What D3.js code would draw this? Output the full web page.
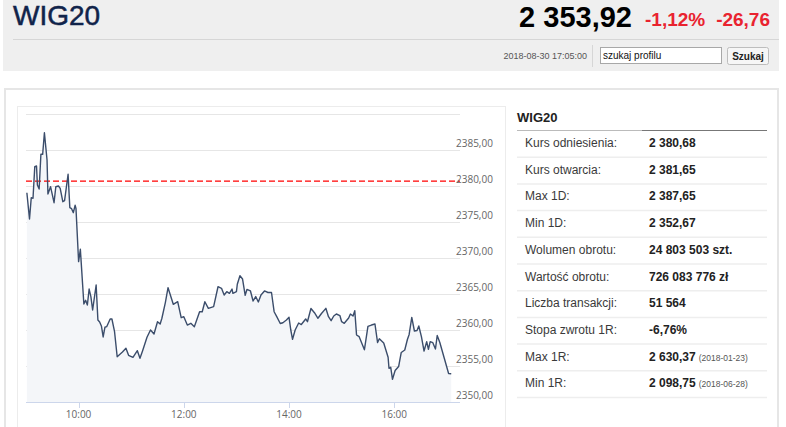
<!DOCTYPE html>
<html>
<head>
<meta charset="utf-8">
<script src="https://cdn.jsdelivr.net/npm/d3@7"></script>
<style>
  body { margin: 0; background: #fff; }
  svg text { font-family: "Liberation Sans", Arial, sans-serif; }
  .ylab, .xlab { font-family: "Open Sans", sans-serif; font-size: 10px; fill: #666; }
</style>
</head>
<body>
<svg width="786" height="427"></svg>
<script>
// header
const title = 'WIG20';
const lastPrice = '2 353,92';
const changePct = '-1,12%';
const changeAbs = '-26,76';
const stamp = '2018-08-30 17:05:00';

// intraday series (time, index value)
const times = ['09:01','09:04','09:06','09:08','09:10','09:12','09:13','09:15','09:17','09:19',
  '09:21','09:24','09:25','09:28','09:32','09:34','09:37','09:39','09:42','09:44',
  '09:48','09:50','09:52','09:54','09:56','09:57','10:00','10:02','10:06','10:08',
  '10:10','10:12','10:14','10:16','10:20','10:22','10:24','10:26','10:28','10:30',
  '10:32','10:36','10:38','10:41','10:44','10:50','10:54','10:57','11:02','11:07',
  '11:10','11:13','11:18','11:22','11:26','11:30','11:33','11:35','11:39','11:42',
  '11:48','11:53','11:57','12:00','12:04','12:08','12:12','12:18','12:21','12:24',
  '12:28','12:34','12:39','12:43','12:46','12:49','12:52','12:55','12:56','13:00',
  '13:01','13:04','13:07','13:10','13:12','13:16','13:19','13:22','13:25','13:28',
  '13:32','13:36','13:40','13:43','13:46','13:50','13:53','13:57','14:00','14:02',
  '14:04','14:07','14:11','14:14','14:19','14:21','14:25','14:29','14:33','14:37',
  '14:42','14:45','14:48','14:51','14:54','14:58','15:00','15:03','15:08','15:10',
  '15:13','15:15','15:17','15:20','15:26','15:30','15:34','15:38','15:41','15:43',
  '15:48','15:53','15:54','15:56','15:58','16:01','16:05','16:08','16:12','16:15',
  '16:17','16:20','16:23','16:26','16:28','16:31','16:34','16:37','16:39','16:41',
  '16:44','16:47','16:49','16:52','16:57','17:02','17:05'];
const values = [2379.07,2375.42,2378.38,2378.29,2382.68,2382.78,2380.14,2379.58,2384.40,2384.40,
  2387.40,2383.61,2378.89,2379.90,2377.68,2379.90,2380.00,2379.68,2377.82,2377.96,
  2381.63,2376.99,2376.85,2376.29,2377.32,2376.90,2369.49,2371.21,2363.61,2364.13,
  2363.47,2365.69,2364.63,2362.78,2366.25,2361.39,2361.11,2360.56,2359.03,2360.38,
  2360.46,2361.53,2361.53,2359.76,2356.29,2356.94,2357.46,2356.49,2356.21,2357.13,
  2356.07,2357.13,2358.99,2360.00,2359.44,2361.15,2360.83,2361.63,2363.85,2365.88,
  2363.57,2363.93,2361.71,2361.85,2360.69,2360.93,2360.46,2362.54,2362.54,2363.93,
  2363.01,2363.24,2366.01,2365.79,2364.86,2365.32,2365.10,2365.69,2365.10,2365.32,
  2366.35,2367.54,2367.08,2364.82,2365.63,2365.42,2364.03,2364.65,2363.89,2364.86,
  2365.42,2365.21,2365.21,2362.54,2361.85,2360.90,2361.01,2361.39,2361.76,2360.00,
  2358.71,2360.00,2360.97,2360.76,2361.53,2361.15,2362.99,2362.40,2361.63,2362.29,
  2363.01,2361.85,2361.29,2361.94,2362.22,2362.01,2361.15,2360.93,2361.67,2362.22,
  2361.94,2362.68,2359.31,2359.07,2357.26,2360.51,2360.69,2360.83,2358.26,2358.78,
  2358.19,2356.21,2354.68,2354.82,2353.15,2354.38,2354.93,2356.88,2357.22,2358.68,
  2359.38,2361.74,2359.86,2359.93,2360.56,2359.07,2357.08,2358.38,2357.32,2358.38,
  2358.24,2357.36,2359.24,2358.26,2356.11,2353.96,2353.92];
const refValue = 2380.68;
const yTicks = [2350, 2355, 2360, 2365, 2370, 2375, 2380, 2385, 2390];
const xTicks = ['10:00', '12:00', '14:00', '16:00'];

// side table
const rowLabels = ['Kurs odniesienia:', 'Kurs otwarcia:', 'Max 1D:', 'Min 1D:', 'Wolumen obrotu:',
  'Wartość obrotu:', 'Liczba transakcji:', 'Stopa zwrotu 1R:', 'Max 1R:', 'Min 1R:'];
const rowValues = ['2 380,68', '2 381,65', '2 387,65', '2 352,67', '24 803 503 szt.',
  '726 083 776 zł', '51 564', '-6,76%', '2 630,37', '2 098,75'];
const rowDates = ['', '', '', '', '', '', '', '', '(2018-01-23)', '(2018-06-28)'];

const svg = d3.select('svg');
const parse = d3.timeParse('%H:%M');

// ---- header bar
svg.append('rect').attr('x', 3).attr('y', 0).attr('width', 776).attr('height', 71).attr('fill', '#efefef');
svg.append('text').attr('x', 13).attr('y', 25).attr('font-size', 28).attr('fill', '#10234a')
    .attr('stroke', '#10234a').attr('stroke-width', 0.5).text(title);
svg.append('text').attr('x', 632).attr('y', 27).attr('text-anchor', 'end')
    .attr('font-size', 29).attr('font-weight', 'bold').attr('fill', '#000').text(lastPrice);
svg.append('text').attr('x', 645).attr('y', 26).attr('font-size', 19).attr('font-weight', 'bold')
    .attr('fill', '#e9232f').text(changePct);
svg.append('text').attr('x', 770).attr('y', 26).attr('text-anchor', 'end').attr('font-size', 19)
    .attr('font-weight', 'bold').attr('fill', '#e9232f').text(changeAbs);
svg.append('line').attr('x1', 13).attr('x2', 779).attr('y1', 39.5).attr('y2', 39.5).attr('stroke', '#d6d6d6');
svg.append('text').attr('x', 587).attr('y', 59).attr('text-anchor', 'end').attr('font-size', 9)
    .attr('fill', '#555').text(stamp);
svg.append('line').attr('x1', 592.5).attr('x2', 592.5).attr('y1', 45).attr('y2', 67).attr('stroke', '#d6d6d6');
svg.append('rect').attr('x', 600.5).attr('y', 47.5).attr('width', 121).attr('height', 16)
    .attr('fill', '#fff').attr('stroke', '#a8a8a8');
svg.append('text').attr('x', 603).attr('y', 59).attr('font-size', 10).attr('fill', '#111').text('szukaj profilu');
svg.append('rect').attr('x', 727.5).attr('y', 47.5).attr('width', 41).attr('height', 17).attr('rx', 2)
    .attr('fill', '#f6f6f6').attr('stroke', '#bdbdbd');
svg.append('text').attr('x', 748).attr('y', 60).attr('text-anchor', 'middle').attr('font-size', 10)
    .attr('font-weight', 'bold').attr('fill', '#222').text('Szukaj');

// ---- panels
svg.append('rect').attr('x', 5).attr('y', 89).attr('width', 773).attr('height', 345)
    .attr('fill', '#fff').attr('stroke', '#e6e6e6').attr('stroke-width', 2);
svg.append('rect').attr('x', 17.5).attr('y', 106.5).attr('width', 488).attr('height', 330)
    .attr('fill', '#fff').attr('stroke', '#ececec');

// ---- chart
const x = d3.scaleTime().domain([parse('09:00'), parse('17:15')]).range([26, 460]);
const y = d3.scaleLinear().domain([2350, 2390]).range([402, 114]);
const pts = times.map((t, i) => ({t: parse(t), v: values[i]}));

svg.append('g').selectAll('line').data(yTicks.slice(1)).join('line')
    .attr('x1', 26).attr('x2', 460)
    .attr('y1', d => Math.round(y(d)) + 0.5).attr('y2', d => Math.round(y(d)) + 0.5)
    .attr('stroke', '#e6e6e6');

svg.append('path').datum(pts)
    .attr('fill', '#f4f6f9')
    .attr('d', d3.area().x(d => x(d.t)).y0(y(2350)).y1(d => y(d.v)));

svg.append('line').attr('x1', 26).attr('x2', 460)
    .attr('y1', y(refValue)).attr('y2', y(refValue))
    .attr('stroke', '#ff0000').attr('stroke-width', 1.2).attr('stroke-dasharray', '6,3');

svg.append('path').datum(pts)
    .attr('fill', 'none').attr('stroke', '#3b4d6b').attr('stroke-width', 1.4)
    .attr('stroke-linejoin', 'round')
    .attr('d', d3.line().x(d => x(d.t)).y(d => y(d.v)));

// axes
svg.append('line').attr('x1', 26).attr('x2', 460).attr('y1', 402.5).attr('y2', 402.5).attr('stroke', '#ccd6eb');
svg.append('g').selectAll('line').data(xTicks).join('line')
    .attr('x1', d => Math.round(x(parse(d))) + 0.5).attr('x2', d => Math.round(x(parse(d))) + 0.5)
    .attr('y1', 402).attr('y2', 408).attr('stroke', '#ccd6eb');
svg.append('g').selectAll('text').data(xTicks).join('text')
    .attr('class', 'xlab').attr('x', d => x(parse(d))).attr('y', 418)
    .attr('text-anchor', 'middle').text(d => d);
svg.append('g').selectAll('text').data(yTicks.slice(0, -1)).join('text')
    .attr('class', 'ylab').attr('x', 456).attr('y', d => y(d) - 3)
    .text(d => d3.format('.2f')(d).replace('.', ','));

// ---- side table
svg.append('text').attr('x', 517).attr('y', 122).attr('font-size', 13).attr('font-weight', 'bold')
    .attr('fill', '#222').text(title);
svg.append('line').attr('x1', 517).attr('x2', 642).attr('y1', 130.5).attr('y2', 130.5).attr('stroke', '#bbb');
svg.append('line').attr('x1', 642).attr('x2', 767).attr('y1', 130.5).attr('y2', 130.5).attr('stroke', '#777');

const rowH = 26.7;
const rows = svg.append('g').selectAll('g').data(rowLabels).join('g')
    .attr('transform', (d, i) => `translate(0,${131 + i * rowH})`);
rows.append('line').attr('x1', 517).attr('x2', 767).attr('y1', rowH - 0.5).attr('y2', rowH - 0.5)
    .attr('stroke', '#eeeeee').attr('stroke-width', 1.5);
rows.append('text').attr('x', 525).attr('y', 16).attr('font-size', 12).attr('fill', '#3a3a3a').text(d => d);
const vt = rows.append('text').attr('x', 649).attr('y', 16);
vt.append('tspan').attr('font-size', 12).attr('font-weight', 'bold').attr('fill', '#222')
    .text((d, i) => rowValues[i]);
vt.append('tspan').attr('font-size', 8.5).attr('fill', '#555').attr('dx', 3)
    .text((d, i) => rowDates[i]);
</script>
</body>
</html>
